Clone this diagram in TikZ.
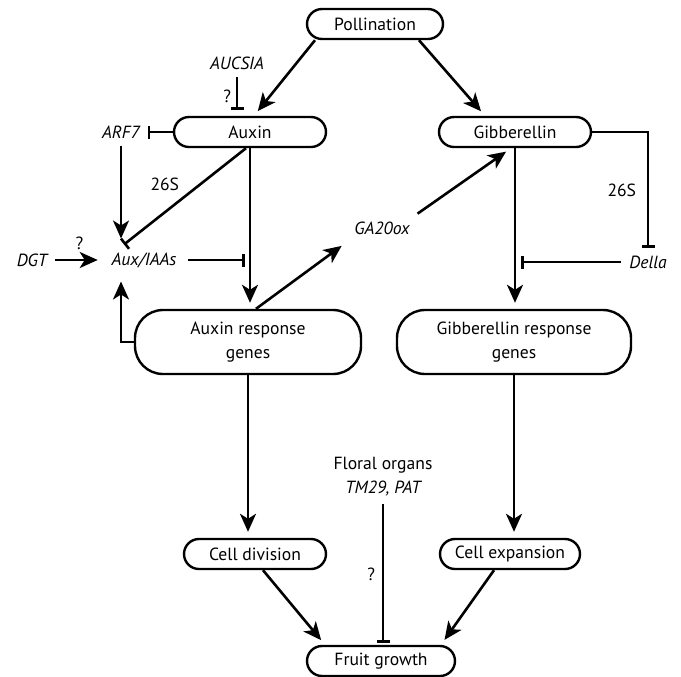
\documentclass[tikz,border=0pt]{standalone}
\usepackage{fontspec}
\setmainfont{PT Sans}
\usetikzlibrary{arrows.meta,shapes.misc}
\begin{document}
\begin{tikzpicture}[x=0.5pt,y=-0.5pt,line width=1.3pt,font=\fontsize{8.8}{12}\selectfont,
 box/.style={draw,line width=1.2pt,rounded rectangle,minimum height=15pt,inner sep=1pt},
 big/.style={draw,line width=1.2pt,rounded corners=14pt,minimum height=32pt,align=center},
 act/.style={-{Stealth[length=9pt,width=8pt,inset=2.5pt]},shorten >=3pt},
 inh/.style={-{Bar[width=6.5pt]}}]
\useasboundingbox (0,0) rectangle (681,676);
\node[box,minimum width=70pt] (poll) at (375,24) {Pollination};
\node[box,minimum width=78pt] (aux) at (250,132) {Auxin};
\node[box,minimum width=78pt] (gib) at (515,132) {Gibberellin};
\node[big,minimum width=113pt] (auxg) at (248,342) {Auxin response\\genes};
\node[big,minimum width=117pt] (gibg) at (514,342) {Gibberellin response\\genes};
\node[box,minimum width=73pt] (div) at (255,554) {Cell division};
\node[box,minimum width=72pt] (exp) at (510,554) {Cell expansion};
\node[box,minimum width=76pt] (fruit) at (381,661) {Fruit growth};
\node (aucsia) at (237,63) {\itshape AUCSIA};
\node (arf) at (121,132) {\itshape ARF7};
\node (iaa) at (144,260) {\itshape Aux/IAAs};
\node (dgt) at (32,260) {\itshape DGT};
\node (ga) at (382,228) {\itshape GA20ox};
\node (della) at (648,262) {\itshape Della};
\node[align=center] (floral) at (383,477) {Floral organs\\\itshape TM29, PAT};
\draw[act] ([xshift=-30pt]poll.south) -- ([xshift=2pt]aux.north);
\draw[act] ([xshift=22pt]poll.south) -- ([xshift=-15pt]gib.north);
\draw[inh,shorten >=3pt] (aucsia) -- (aucsia |- aux.north) node[midway,left=-1pt]{?};
\draw[inh] (aux.west) -- (arf.east);
\draw[act] (arf) -- (arf |- iaa.north);
\draw[inh] ([xshift=-2pt]aux.south) -- ([xshift=-10pt]iaa.north) node[midway,above left=-1pt]{26S};
\draw[act] (aux.south) -- (aux.south |- auxg.north);
\draw[act] (dgt) -- (iaa) node[midway,above=1pt]{?};
\draw[inh,shorten <=2pt,shorten >=2.5pt] (iaa.east) -- (iaa -| aux.south);
\draw[act] (auxg.west) -| (arf |- iaa.south);
\draw[act] ([xshift=4pt]auxg.north) -- (ga.south west);
\draw[act] (ga.north east) -- ([xshift=-2pt]gib.south);
\draw[act] (gib.south) -- (gib.south |- gibg.north);
\draw[inh] (gib.east) -| (della.north) node[pos=0.75,left=2pt]{26S};
\draw[inh,shorten >=3pt] (della.west) -- (della -| gib.south);
\draw[act] (auxg.south) -- (auxg.south |- div.north);
\draw[act] (gibg.south) -- (gibg.south |- exp.north);
\draw[inh,shorten >=1pt] (floral) -- (floral |- fruit.north) node[midway,left=0pt]{?};
\draw[act] ([xshift=4pt]div.south) -- ([xshift=-28pt]fruit.north);
\draw[act] ([xshift=-8pt]exp.south) -- ([xshift=30pt]fruit.north);
\end{tikzpicture}
\end{document}
